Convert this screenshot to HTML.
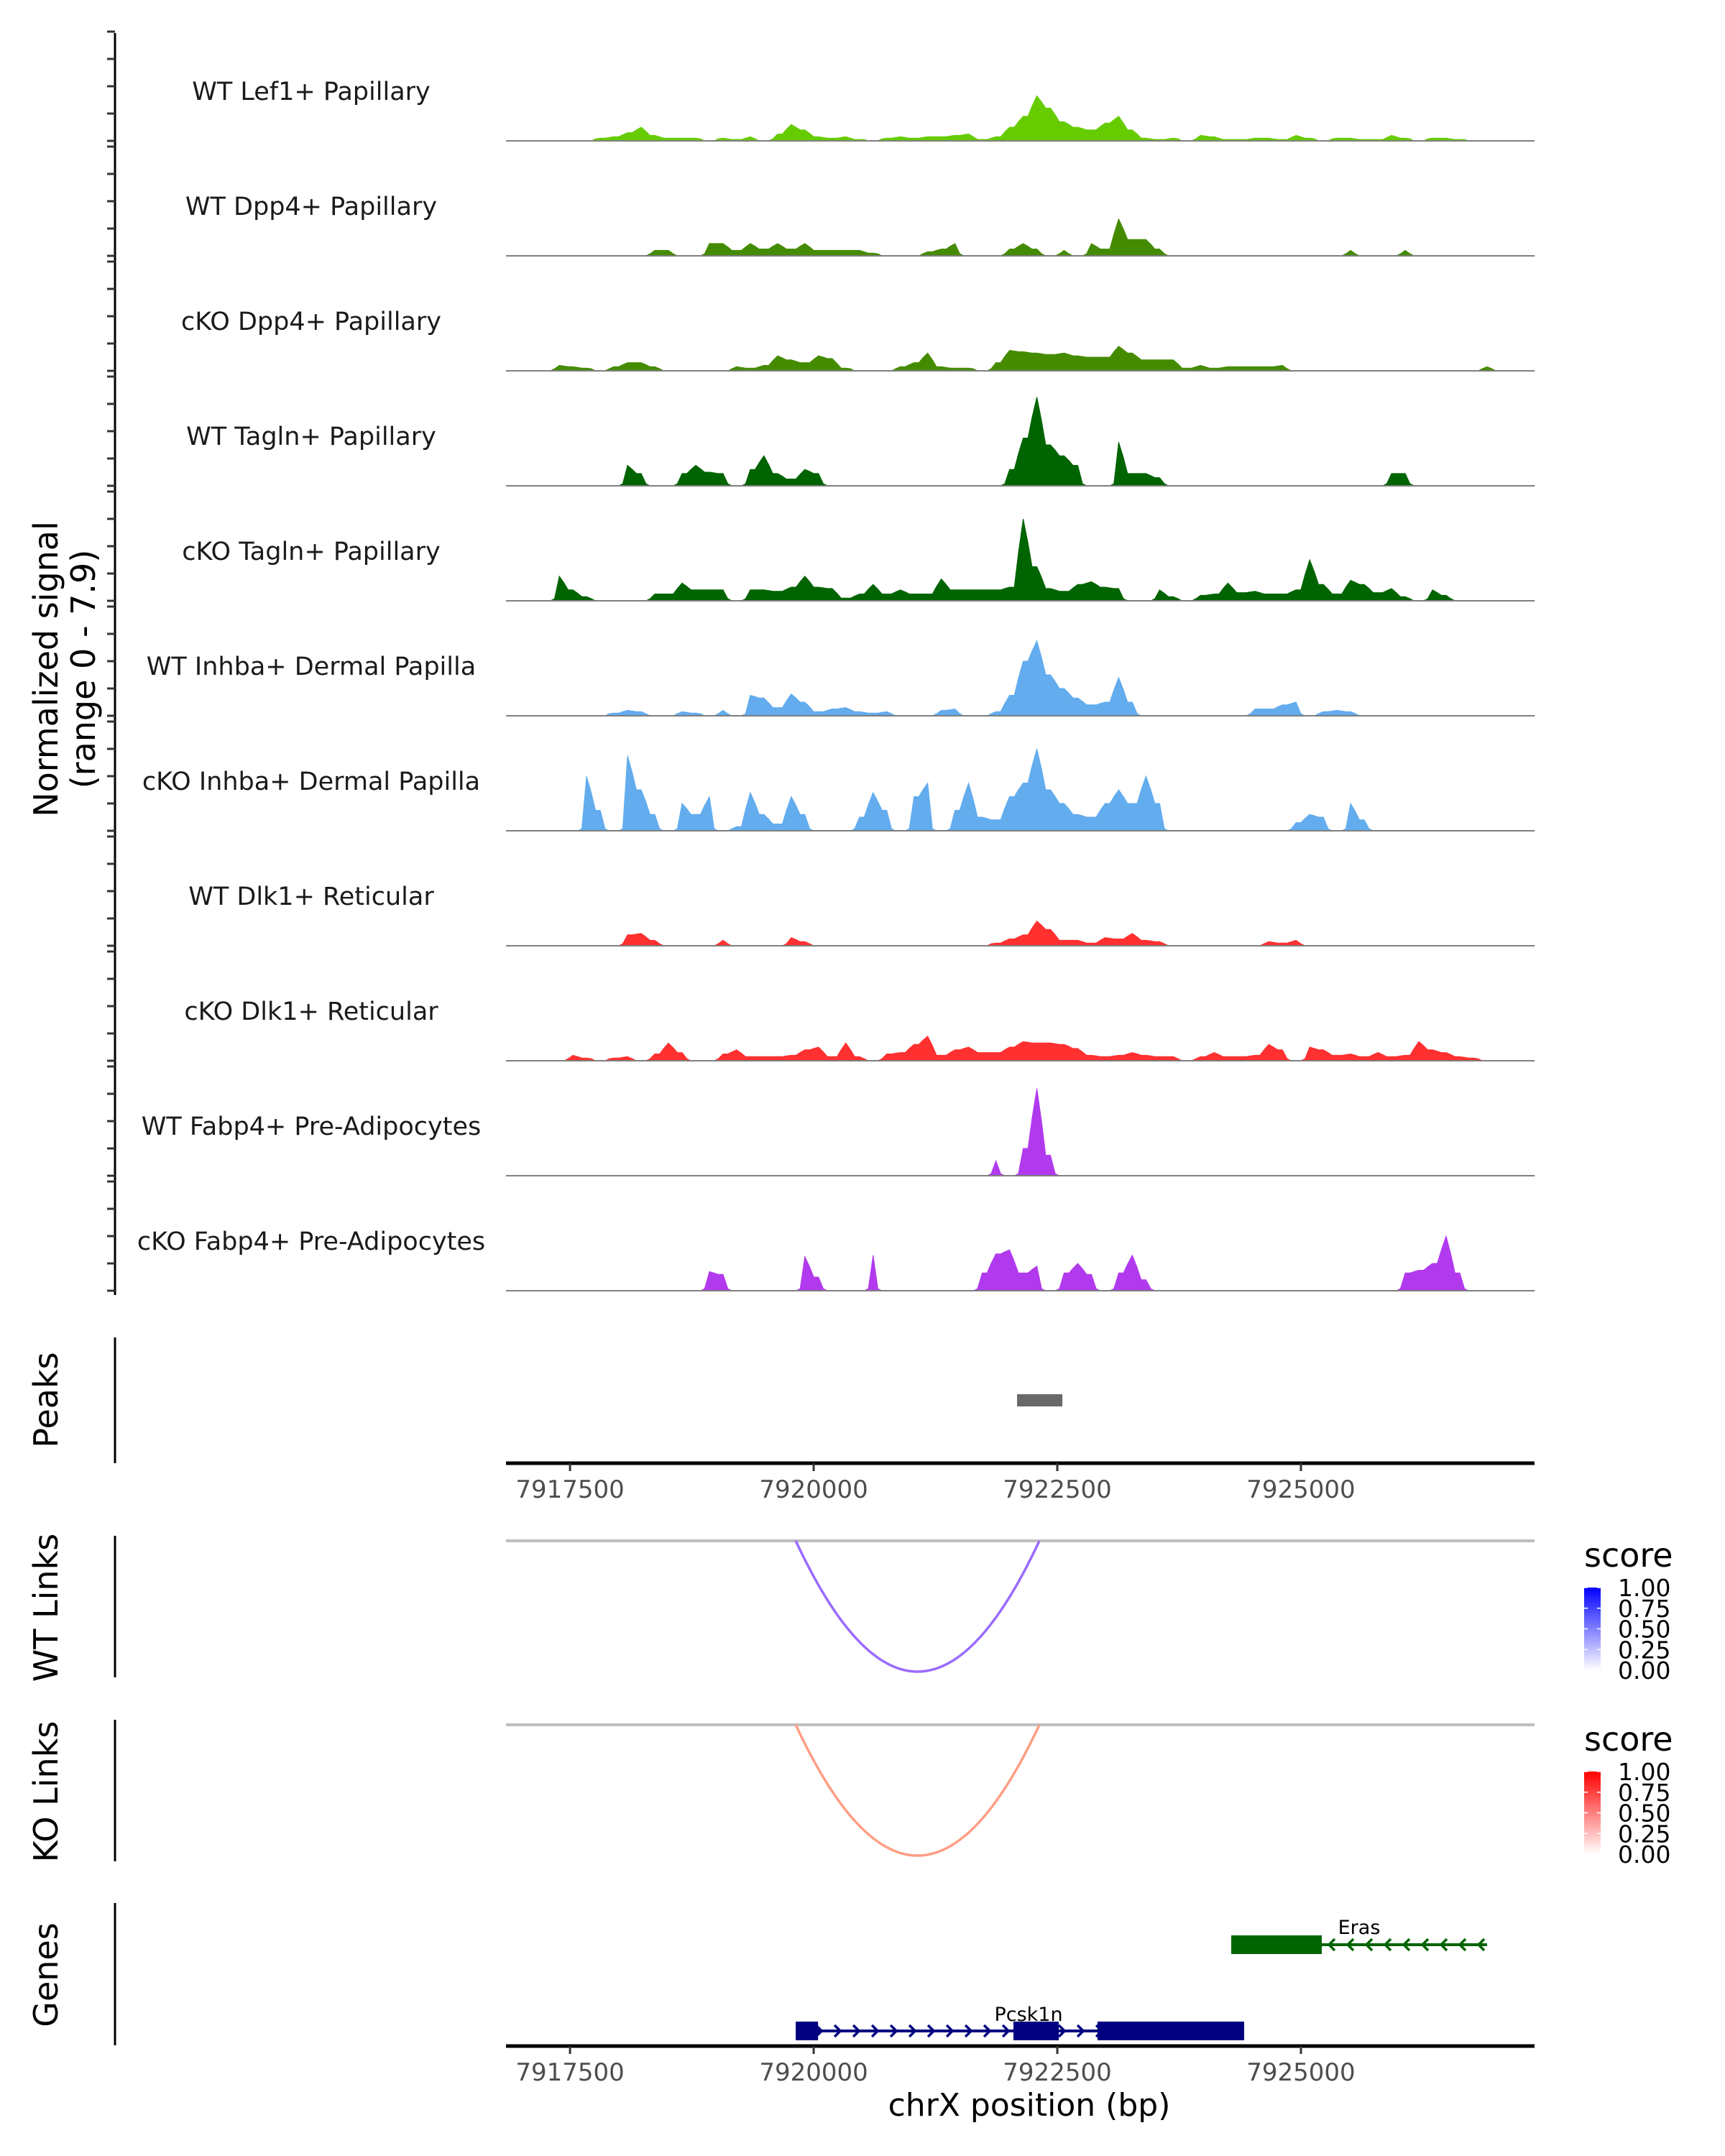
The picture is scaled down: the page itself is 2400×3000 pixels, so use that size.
<!DOCTYPE html>
<html><head><meta charset="utf-8"><style>
html,body{margin:0;padding:0;background:#fff}
svg{display:block}
text{font-family:"DejaVu Sans","Liberation Sans",sans-serif}
</style></head><body>
<svg id="chart" width="2400" height="3000" viewBox="0 0 2400 3000" xmlns="http://www.w3.org/2000/svg">
<text transform="translate(80,931) rotate(-90)" text-anchor="middle" font-size="46" fill="#000">Normalized signal</text>
<text transform="translate(132,931) rotate(-90)" text-anchor="middle" font-size="46" fill="#000">(range 0 - 7.9)</text>
<text transform="translate(80,1948) rotate(-90)" text-anchor="middle" font-size="46">Peaks</text>
<text transform="translate(80,2237) rotate(-90)" text-anchor="middle" font-size="46">WT Links</text>
<text transform="translate(80,2493) rotate(-90)" text-anchor="middle" font-size="46">KO Links</text>
<text transform="translate(80,2748) rotate(-90)" text-anchor="middle" font-size="46">Genes</text>
<text x="1432" y="2944" text-anchor="middle" font-size="44">chrX position (bp)</text>
<defs>
<linearGradient id="gBlue" x1="0" y1="0" x2="0" y2="1"><stop offset="0" stop-color="#0000ff"/><stop offset="1" stop-color="#ffffff"/></linearGradient>
<linearGradient id="gRed" x1="0" y1="0" x2="0" y2="1"><stop offset="0" stop-color="#ff0000"/><stop offset="1" stop-color="#ffffff"/></linearGradient>
</defs>
<g id="root"></g>
</svg>
<script>
const trackNames = ["WT Lef1+ Papillary","WT Dpp4+ Papillary","cKO Dpp4+ Papillary","WT Tagln+ Papillary","cKO Tagln+ Papillary","WT Inhba+ Dermal Papilla","cKO Inhba+ Dermal Papilla","WT Dlk1+ Reticular","cKO Dlk1+ Reticular","WT Fabp4+ Pre-Adipocytes","cKO Fabp4+ Pre-Adipocytes"];
const trackColors = ["#66cc00","#458b00","#458b00","#006400","#006400","#63acee","#63acee","#ff3030","#ff3030","#b23aee","#b23aee"];
const binStart = 7916900;
const binSize = 140;
const sigLef1WT = [0,0,0,0,0,0,.2,.3,.6,1.0,.4,.2,.2,.2,0,.2,.1,.3,0,.5,1.2,.8,.3,.2,.3,.1,0,.2,.3,.2,.3,.3,.4,.5,.1,.3,1.0,1.8,3.3,2.4,1.4,1.0,.8,1.3,1.8,.8,.2,.1,.2,0,.4,.3,.1,.1,.2,.2,.1,.4,.2,0,.2,.2,.1,.1,.4,.2,0,.2,.2,.1,0,0,0,0,0];
const sigDpp4WT = [0,0,0,0,0,0,0,0,0,0,.4,.4,0,0,.9,.9,.4,.9,.5,.9,.5,.9,.4,.4,.4,.4,.2,0,0,0,.3,.5,.9,0,0,0,.5,.9,.5,0,.4,0,.9,.5,2.7,1.2,1.2,.5,0,0,0,0,0,0,0,0,0,0,0,0,0,.4,0,0,0,.4,0,0,0,0,0,0,0,0,0];
const sigDpp4KO = [0,0,0,.4,.3,.2,0,.3,.6,.6,.3,0,0,0,0,0,.3,.2,.4,1.1,.8,.6,1.1,.9,.2,0,0,0,.3,.6,1.3,.3,.2,.2,0,.6,1.5,1.4,1.3,1.2,1.3,1.1,1.0,1.0,1.8,1.3,.8,.8,.8,.2,.4,.2,.3,.3,.3,.3,.4,0,0,0,0,0,0,0,0,0,0,0,0,0,0,.3,0,0,0];
const sigTaglnWT = [0,0,0,0,0,0,0,0,1.5,.9,0,0,.9,1.5,1.0,.9,0,1.2,2.2,.9,.5,1.2,.9,0,0,0,0,0,0,0,0,0,0,0,0,0,1.2,3.5,6.5,3.0,2.2,1.5,0,0,3.2,.9,.9,.6,0,0,0,0,0,0,0,0,0,0,0,0,0,0,0,0,.9,.9,0,0,0,0,0,0,0,0,0];
const sigTaglnKO = [0,0,0,1.8,.8,.3,0,0,0,0,.5,.5,1.3,.8,.8,.8,0,.8,.8,.7,1.0,1.8,1.0,.9,.2,.5,1.2,.5,.8,.5,.5,1.6,.8,.8,.8,.8,1.0,6.0,2.5,.9,.7,1.2,1.4,1.0,.9,0,0,.8,.3,0,.4,.5,1.3,.6,.7,.5,.5,.8,3.0,1.2,.5,1.5,1.2,.6,.9,.3,0,.8,.4,0,0,0,0,0,0];
const sigInhbaWT = [0,0,0,0,0,0,0,.2,.4,.3,0,0,.3,.2,0,.4,0,1.5,1.3,.6,1.6,1.0,.3,.5,.6,.3,.2,.3,0,0,0,.4,.5,0,0,.3,1.5,4.0,5.5,3.0,2.0,1.3,.8,1.0,2.8,1.0,0,0,0,0,0,0,0,0,.5,.5,.8,1.0,0,.3,.4,.3,0,0,0,0,0,0,0,0,0,0,0,0,0];
const sigInhbaKO = [0,0,0,0,0,4.0,1.5,0,5.5,3.0,1.2,0,2.0,1.2,2.5,0,.3,2.8,1.2,.5,2.5,1.2,0,0,0,1.0,2.8,1.5,0,2.5,3.5,0,1.5,3.5,1.0,.8,2.5,3.5,6.0,3.0,2.0,1.2,1.0,2.0,3.0,2.0,4.0,2.0,0,0,0,0,0,0,0,0,0,.6,1.2,1.0,0,2.0,.8,0,0,0,0,0,0,0,0,0,0,0,0];
const sigDlk1WT = [0,0,0,0,0,0,0,0,.8,.9,.4,0,0,0,0,.4,0,0,0,0,.6,.3,0,0,0,0,0,0,0,0,0,0,0,0,0,.2,.5,.8,1.8,1.2,.4,.4,.2,.6,.5,.9,.4,.3,0,0,0,0,0,0,0,.3,.2,.4,0,0,0,0,0,0,0,0,0,0,0,0,0,0,0,0,0];
const sigDlk1KO = [0,0,0,0,.4,.2,0,.2,.3,0,.5,1.3,.6,0,0,.5,.8,.3,.3,.3,.4,.8,1.0,.3,1.3,.3,0,.5,.6,1.2,1.8,.4,.8,1.0,.6,.6,1.0,1.4,1.3,1.3,1.2,.9,.4,.3,.4,.6,.4,.3,.3,0,.3,.6,.3,.3,.4,1.2,.8,0,1.0,.8,.4,.5,.3,.6,.3,.4,1.4,.8,.6,.3,.2,0,0,0,0];
const sigFabp4WT = [0,0,0,0,0,0,0,0,0,0,0,0,0,0,0,0,0,0,0,0,0,0,0,0,0,0,0,0,0,0,0,0,0,0,0,1.1,0,2.0,6.4,1.5,0,0,0,0,0,0,0,0,0,0,0,0,0,0,0,0,0,0,0,0,0,0,0,0,0,0,0,0,0,0,0,0,0,0,0];
const sigFabp4KO = [0,0,0,0,0,0,0,0,0,0,0,0,0,0,1.4,1.2,0,0,0,0,0,2.5,1.0,0,0,0,2.6,0,0,0,0,0,0,0,1.3,2.7,3.0,1.3,1.8,0,1.3,2.0,1.2,0,1.3,2.6,.8,0,0,0,0,0,0,0,0,0,0,0,0,0,0,0,0,0,0,1.3,1.5,2.0,4.0,1.3,0,0,0,0,0];
const signals = [sigLef1WT,sigDpp4WT,sigDpp4KO,sigTaglnWT,sigTaglnKO,sigInhbaWT,sigInhbaKO,sigDlk1WT,sigDlk1KO,sigFabp4WT,sigFabp4KO];
const xTicks = [7917500,7920000,7922500,7925000];
const peakRegions = [[7922087,7922552]];
const wtLinks = [[7919816,7922316]];
const koLinks = [[7919816,7922316]];
const wtLinkScores = [0.55];
const koLinkScores = [0.45];
const pcsk1nExons = [[7919816,7920045],[7922050,7922515],[7922913,7924417]];
const erasExons = [[7924285,7925214]];
const erasSpan = [7924285,7926910];
const legendTicks = ["1.00","0.75","0.50","0.25","0.00"];

const NS="http://www.w3.org/2000/svg";
const root=document.getElementById('root');
function mk(tag,attrs,parent){const e=document.createElementNS(NS,tag);for(const k in attrs)e.setAttribute(k,attrs[k]);(parent||root).appendChild(e);return e;}
const PX0=704,PX1=2135,BP0=7916843,BP1=7927397;
function xs(bp){return PX0+(bp-BP0)/(BP1-BP0)*(PX1-PX0);}
const UNIT=19;
function base(i){return 196+160*i;}

let ax=mk('line',{x1:160,x2:160,y1:46,y2:1802,stroke:'#000','stroke-width':3});


for(let i=0;i<signals.length;i++){
  const b=base(i);
  for(let k=0;k<=4;k++){
    const t=mk('line',{x1:149,x2:160,y1:b-UNIT*2*k,y2:b-UNIT*2*k,stroke:'#333','stroke-width':3});
    
    
  }
  const g=mk('g',{});
  
  
  const lab=mk('text',{x:433,y:b-57,'text-anchor':'middle','font-size':35,fill:'#1a1a1a'},g);
  lab.textContent=trackNames[i];
  
  
  const vals=signals[i];
  let d='M'+xs(binStart).toFixed(1)+','+b;
  for(let j=0;j<vals.length;j++){
    const v=vals[j]||0;
    const xc=xs(binStart+(j+0.5)*binSize);
    const xa=xs(binStart+(j+0.15)*binSize), xb=xs(binStart+(j+0.85)*binSize);
    if(v>0){
      const prev=j>0?vals[j-1]:0, next=j<vals.length-1?vals[j+1]:0;
      d+='L'+(prev>0?xa:xa).toFixed(1)+','+(b-Math.min(v,prev>0?(v+prev)/2:0.15)*UNIT).toFixed(1);
      d+='L'+xc.toFixed(1)+','+(b-v*UNIT).toFixed(1);
      d+='L'+xb.toFixed(1)+','+(b-Math.min(v,next>0?(v+next)/2:0.15)*UNIT).toFixed(1);
    } else {
      d+='L'+xa.toFixed(1)+','+b+'L'+xb.toFixed(1)+','+b;
    }
  }
  d+='L'+xs(binStart+vals.length*binSize).toFixed(1)+','+b+'Z';
  const p=mk('path',{d:d,fill:trackColors[i],stroke:trackColors[i],'stroke-width':1},g);
  
  
  const bl=mk('line',{x1:PX0,x2:PX1,y1:b,y2:b,stroke:'#7f7f7f','stroke-width':2},g);
  
  
}

[[1861,2036,'peaks-y-axis'],[2137,2334,'wt-links-y-axis'],[2393,2590,'ko-links-y-axis'],[2648,2846,'genes-y-axis']].forEach(s=>{
  const l=mk('line',{x1:160,x2:160,y1:s[0],y2:s[1],stroke:'#000','stroke-width':3});
  
  
});

peakRegions.forEach(r=>{
  const e=mk('rect',{x:xs(r[0]),y:1940,width:xs(r[1])-xs(r[0]),height:17,fill:'#696969'});
  
  
});

function xAxis(y,name){
  const l=mk('line',{x1:PX0,x2:PX1,y1:y,y2:y,stroke:'#000','stroke-width':5});
  
  
  xTicks.forEach(t=>{
    const tk=mk('line',{x1:xs(t),x2:xs(t),y1:y,y2:y+11,stroke:'#333','stroke-width':3});
    
    
    const tl=mk('text',{x:xs(t),y:y+48,'text-anchor':'middle','font-size':34,fill:'#4d4d4d'});
    tl.textContent=t;
    
    
  });
}
xAxis(2036,'peaks-x-axis');
xAxis(2847,'genes-x-axis');

function links(arr,scores,y0,depth,col,name){
  const gl=mk('line',{x1:PX0,x2:PX1,y1:y0,y2:y0,stroke:'#bebebe','stroke-width':4});
  
  
  arr.forEach((r,i)=>{
    const a=xs(r[0]),b=xs(r[1]),m=(a+b)/2;
    const p=mk('path',{d:`M${a},${y0} Q${m},${y0+2*depth} ${b},${y0}`,fill:'none',stroke:col,'stroke-width':3.5});
    
    
  });
}
links(wtLinks,wtLinkScores,2144,182,'#9a6bff','wt-link');
links(koLinks,koLinkScores,2400,182,'#ff9e85','ko-link');

function legend(y0,grad,name){
  const t=mk('text',{x:2204,y:y0,'font-size':46,fill:'#000'});
  t.textContent='score';
  
  
  const r=mk('rect',{x:2204,y:y0+29,width:23,height:115,fill:'url(#'+grad+')'});
  
  
  legendTicks.forEach((s,i)=>{
    const yy=y0+29+i*115/4;
    const tk=mk('line',{x1:2204,x2:2209,y1:yy,y2:yy,stroke:'#fff','stroke-width':1.5});
    
    
    const tk2=mk('line',{x1:2222,x2:2227,y1:yy,y2:yy,stroke:'#fff','stroke-width':1.5});
    
    
    const l=mk('text',{x:2251,y:yy+12,'font-size':33,fill:'#000'});
    l.textContent=s;
    
    
  });
}
legend(2180,'gBlue','wt-legend');
legend(2436,'gRed','ko-legend');

function gene(exons,span,y,col,dir,label,lx,ly,name){
  const g=mk('g',{});
  
  
  const ln=mk('line',{x1:xs(span[0]),x2:xs(span[1]),y1:y,y2:y,stroke:col,'stroke-width':4},g);
  
  
  for(let x=xs(span[0])+8;x<xs(span[1])-4;x+=26){
    const c=mk('path',{d:dir>0?`M${x-6},${y-8} L${x+2},${y} L${x-6},${y+8}`:`M${x+6},${y-8} L${x-2},${y} L${x+6},${y+8}`,fill:'none',stroke:col,'stroke-width':3.5},g);
    
    
  }
  exons.forEach(e=>{
    const r=mk('rect',{x:xs(e[0]),y:y-13,width:xs(e[1])-xs(e[0]),height:26,fill:col},g);
    
    
  });
  const t=mk('text',{x:lx,y:ly,'text-anchor':'middle','font-size':27,fill:'#000'},g);
  t.textContent=label;
  
  
}
gene(pcsk1nExons,[pcsk1nExons[0][0],pcsk1nExons[2][1]],2826,'#000080',1,'Pcsk1n',1431,2812,'gene-pcsk1n');
gene(erasExons,erasSpan,2706,'#006400',-1,'Eras',1891,2691,'gene-eras');
</script>
</body></html>
